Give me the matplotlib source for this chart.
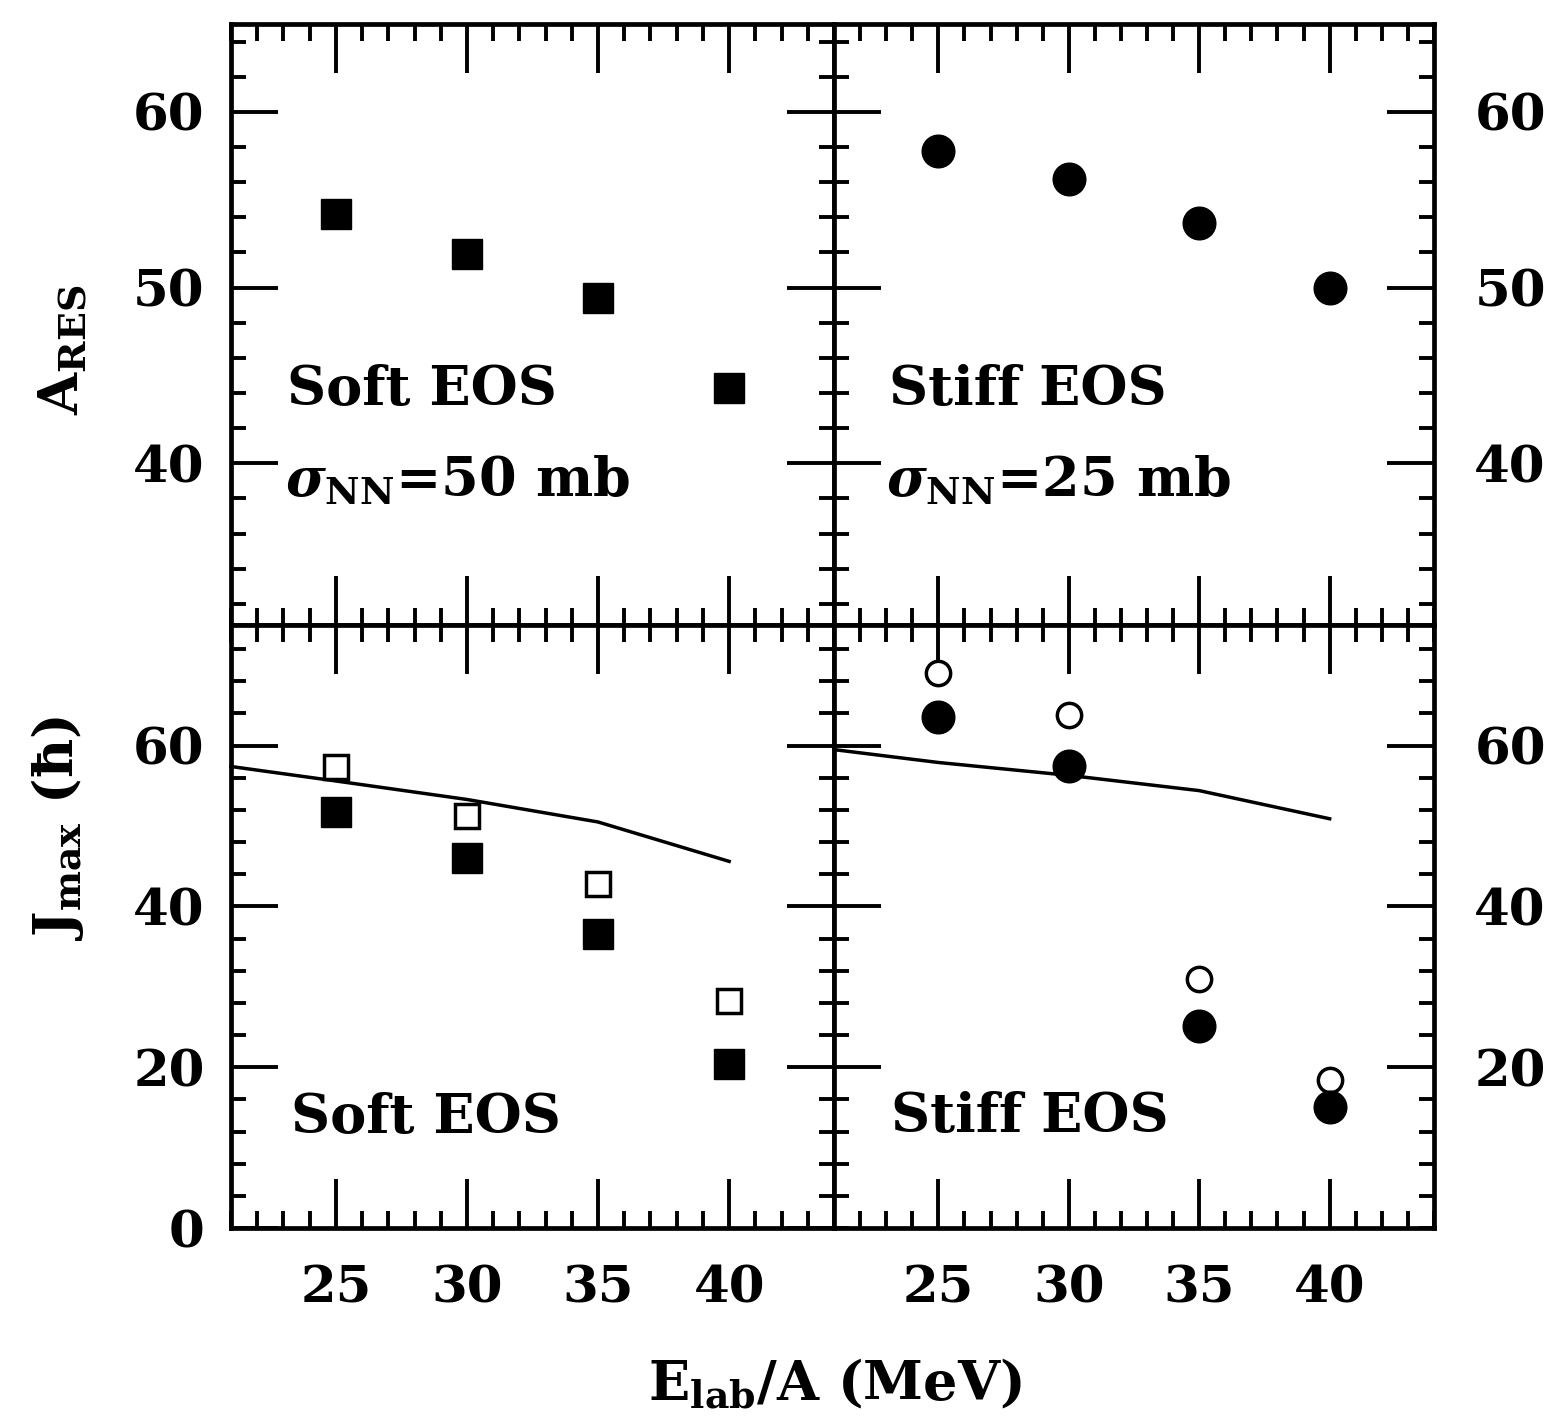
import matplotlib
matplotlib.use("Agg")
import matplotlib.pyplot as plt
from matplotlib.ticker import FixedLocator, MultipleLocator

plt.rcParams['font.family'] = ['DejaVu Serif']
plt.rcParams['font.weight'] = 'bold'
plt.rcParams['mathtext.fontset'] = 'custom'
plt.rcParams['mathtext.rm'] = 'DejaVu Serif:bold'
plt.rcParams['mathtext.it'] = 'DejaVu Serif:italic:bold'
plt.rcParams['mathtext.bf'] = 'DejaVu Serif:bold'

# ---------------- data ----------------
energy = [25, 30, 35, 40]

# top-left: A_RES, soft EOS, sigma=50 mb (filled squares)
ares_soft = [54.2, 51.9, 49.4, 44.3]
# top-right: A_RES, stiff EOS, sigma=25 mb (filled circles)
ares_stiff = [57.8, 56.2, 53.7, 50.0]

# bottom-left: Jmax, soft EOS
jmax_soft_open = [57.3, 51.2, 42.8, 28.2]
jmax_soft_filled = [51.8, 46.0, 36.6, 20.4]
line_soft_x = [21, 25, 30, 35, 40]
line_soft_y = [57.4, 55.6, 53.3, 50.5, 45.6]

# bottom-right: Jmax, stiff EOS
jmax_stiff_open = [69.0, 63.8, 31.0, 18.4]
jmax_stiff_filled = [63.5, 57.5, 25.1, 15.0]
line_stiff_x = [21, 25, 30, 35, 40]
line_stiff_y = [59.5, 57.9, 56.3, 54.4, 50.9]

x_major = [25, 30, 35, 40]
top_y_major = [40, 50, 60]
bot_y_major_left = [0, 20, 40, 60]
bot_y_major_right = [20, 40, 60]

# ---------------- layout ----------------
W, H = 1552, 1423
fig = plt.figure(figsize=(W / 100, H / 100), dpi=100)

xl, xm, xr = 231 / W, 834 / W, 1434 / W
yt, ym, yb = 1 - 24 / H, 1 - 625 / H, 1 - 1228 / H

ax_tl = fig.add_axes([xl, ym, xm - xl, yt - ym])
ax_tr = fig.add_axes([xm, ym, xr - xm, yt - ym])
ax_bl = fig.add_axes([xl, yb, xm - xl, ym - yb])
ax_br = fig.add_axes([xm, yb, xr - xm, ym - yb])

TICKFS = 37
LW_SPINE = 3.4


def style(ax, ymaj, ymin_step, ylim, ylab_side, xlabels):
    ax.set_xlim(21, 44)
    ax.set_ylim(*ylim)
    ax.xaxis.set_major_locator(FixedLocator(x_major))
    ax.xaxis.set_minor_locator(MultipleLocator(1))
    ax.yaxis.set_major_locator(FixedLocator(ymaj))
    ax.yaxis.set_minor_locator(MultipleLocator(ymin_step))
    for s in ax.spines.values():
        s.set_linewidth(LW_SPINE)
    ax.tick_params(which='both', direction='in', top=True, bottom=True,
                   left=True, right=True, width=2.8, colors='black')
    ax.tick_params(axis='y', which='major', length=34)
    ax.tick_params(axis='y', which='minor', length=11)
    ax.tick_params(axis='x', which='major', length=35)
    ax.tick_params(axis='x', which='minor', length=12)
    ax.tick_params(axis='x', labelbottom=xlabels, labeltop=False,
                   labelsize=TICKFS, pad=26)
    if ylab_side == 'left':
        ax.tick_params(axis='y', labelleft=True, labelright=False,
                       labelsize=TICKFS, pad=19)
    else:
        ax.tick_params(axis='y', labelleft=False, labelright=True,
                       labelsize=TICKFS, pad=29)
    for lab in ax.get_xticklabels() + ax.get_yticklabels():
        lab.set_fontweight('bold')


style(ax_tl, top_y_major, 2, (30.8, 65), 'left', False)
style(ax_tr, top_y_major, 2, (30.8, 65), 'right', False)
style(ax_bl, bot_y_major_left, 4, (0, 75), 'left', True)
style(ax_br, bot_y_major_right, 4, (0, 75), 'right', True)

# ---------------- marks ----------------
ax_tl.plot(energy, ares_soft, ls='none', marker='s', ms=21, color='black')
ax_tr.plot(energy, ares_stiff, ls='none', marker='o', ms=23.5, color='black')

ax_bl.plot(line_soft_x, line_soft_y, color='black', lw=2.5)
ax_bl.plot(energy, jmax_soft_open, ls='none', marker='s', ms=17,
           mfc='white', mec='black', mew=2.5)
ax_bl.plot(energy, jmax_soft_filled, ls='none', marker='s', ms=21.5, color='black')

ax_br.plot(line_stiff_x, line_stiff_y, color='black', lw=2.5)
ax_br.plot(energy, jmax_stiff_open, ls='none', marker='o', ms=17.5,
           mfc='white', mec='black', mew=2.5)
ax_br.plot(energy, jmax_stiff_filled, ls='none', marker='o', ms=23.5, color='black')

for ax in (ax_tl, ax_tr, ax_bl, ax_br):
    for ln in ax.lines:
        ln.set_clip_on(False)

# ---------------- texts ----------------
TXTFS = 39
kw = dict(fontsize=TXTFS, ha='left', va='baseline', fontweight='bold')
ax_tl.text(23.15, 43.3, 'Soft EOS', **kw)
ax_tl.text(23.05, 38.1, r'$\sigma_{\rm NN}$=50 mb', **kw)
ax_tr.text(23.1, 43.3, 'Stiff EOS', **kw)
ax_tr.text(23.0, 38.1, r'$\sigma_{\rm NN}$=25 mb', **kw)
ax_bl.text(23.3, 11.8, 'Soft EOS', **kw)
ax_br.text(23.2, 12.0, 'Stiff EOS', **kw)

fig.text(63 / W, 1 - 350 / H, r'A$_{\rm RES}$', fontsize=TXTFS, rotation=90,
         ha='center', va='center', fontweight='bold')
fig.text(57 / W, 1 - 828 / H, 'J$_{\\rm max}$ (ħ)', fontsize=TXTFS, rotation=90,
         ha='center', va='center', fontweight='bold')
fig.text(835 / W, 1 - 1400 / H, r'E$_{\rm lab}$/A (MeV)', fontsize=TXTFS,
         ha='center', va='baseline', fontweight='bold')

fig.savefig('out.png', dpi=100, facecolor='white')
